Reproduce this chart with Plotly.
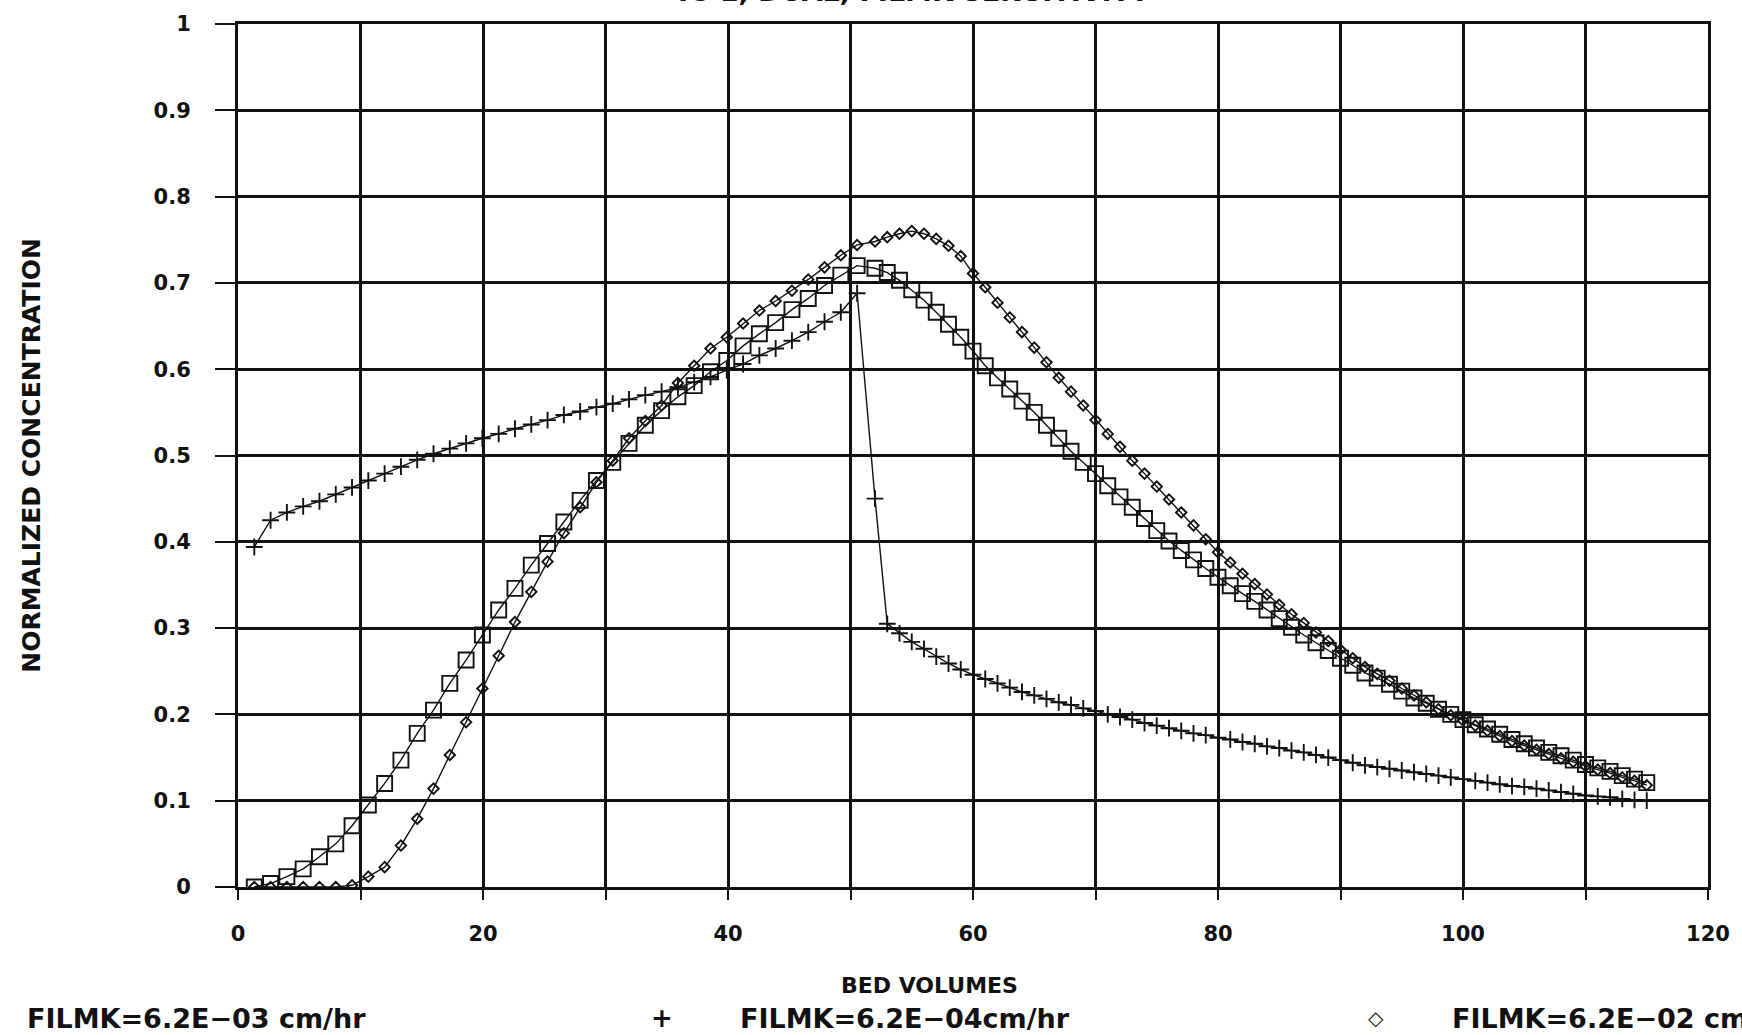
import plotly.graph_objects as go

# ---------------- data ----------------
# bed volumes: loading phase sampled coarser, elution phase every 1 BV
bv_load = [1.33, 2.66, 3.99, 5.32, 6.65, 7.98, 9.31, 10.64, 11.97, 13.30,
           14.63, 15.96, 17.29, 18.62, 19.95, 21.28, 22.61, 23.94, 25.27, 26.60,
           27.93, 29.26, 30.59, 31.92, 33.25, 34.58, 35.91, 37.24, 38.57, 39.90,
           41.23, 42.56, 43.89, 45.22, 46.55, 47.88, 49.21, 50.54]
bv_elute = [52, 53, 54, 55, 56, 57, 58, 59, 60, 61, 62, 63, 64, 65, 66, 67,
            68, 69, 70, 71, 72, 73, 74, 75, 76, 77, 78, 79, 80, 81, 82, 83,
            84, 85, 86, 87, 88, 89, 90, 91, 92, 93, 94, 95, 96, 97, 98, 99,
            100, 101, 102, 103, 104, 105, 106, 107, 108, 109, 110, 111, 112,
            113, 114, 115]

# FILMK = 6.2E-03 cm/hr (open squares)
sq_load = [0.000, 0.004, 0.012, 0.021, 0.035, 0.050, 0.071, 0.095, 0.120, 0.147,
           0.178, 0.205, 0.236, 0.263, 0.292, 0.321, 0.346, 0.373, 0.398, 0.423,
           0.448, 0.471, 0.492, 0.514, 0.535, 0.552, 0.568, 0.581, 0.597, 0.610,
           0.627, 0.641, 0.654, 0.669, 0.682, 0.697, 0.709, 0.720]
sq_elute = [0.717, 0.712, 0.703, 0.692, 0.680, 0.666, 0.652, 0.637, 0.621, 0.604,
            0.590, 0.577, 0.563, 0.550, 0.535, 0.520, 0.505, 0.492, 0.479, 0.465,
            0.452, 0.440, 0.427, 0.413, 0.401, 0.390, 0.379, 0.369, 0.359, 0.349,
            0.340, 0.331, 0.321, 0.311, 0.301, 0.292, 0.283, 0.274, 0.265, 0.257,
            0.248, 0.242, 0.235, 0.227, 0.219, 0.213, 0.206, 0.200, 0.194, 0.188,
            0.183, 0.177, 0.171, 0.166, 0.161, 0.156, 0.152, 0.147, 0.142, 0.138,
            0.134, 0.129, 0.125, 0.121]

# FILMK = 6.2E-04 cm/hr (plus)
pl_load = [0.394, 0.425, 0.434, 0.441, 0.447, 0.455, 0.463, 0.471, 0.479, 0.487,
           0.495, 0.502, 0.508, 0.514, 0.520, 0.525, 0.531, 0.536, 0.541, 0.547,
           0.551, 0.556, 0.560, 0.565, 0.570, 0.574, 0.579, 0.585, 0.591, 0.599,
           0.606, 0.616, 0.624, 0.633, 0.643, 0.655, 0.666, 0.688]
pl_elute = [0.450, 0.305, 0.294, 0.284, 0.276, 0.267, 0.259, 0.252, 0.246, 0.241,
            0.236, 0.231, 0.226, 0.222, 0.218, 0.214, 0.211, 0.207, 0.204, 0.200,
            0.197, 0.194, 0.190, 0.187, 0.184, 0.181, 0.178, 0.176, 0.173, 0.171,
            0.168, 0.166, 0.163, 0.161, 0.158, 0.156, 0.153, 0.150, 0.147, 0.144,
            0.141, 0.139, 0.137, 0.135, 0.133, 0.131, 0.129, 0.127, 0.125, 0.123,
            0.121, 0.119, 0.117, 0.116, 0.114, 0.112, 0.110, 0.108, 0.106, 0.105,
            0.104, 0.102, 0.101, 0.100]

# FILMK = 6.2E-02 cm/hr (open diamonds)
di_load = [0.000, 0.000, 0.000, 0.000, 0.000, 0.000, 0.002, 0.012, 0.023, 0.048,
           0.079, 0.114, 0.153, 0.191, 0.230, 0.268, 0.307, 0.342, 0.377, 0.410,
           0.440, 0.469, 0.494, 0.520, 0.540, 0.558, 0.584, 0.604, 0.624, 0.637,
           0.653, 0.668, 0.679, 0.691, 0.704, 0.718, 0.732, 0.744]
di_elute = [0.748, 0.753, 0.757, 0.760, 0.757, 0.751, 0.743, 0.731, 0.711, 0.695,
            0.677, 0.660, 0.643, 0.625, 0.608, 0.590, 0.574, 0.558, 0.541, 0.525,
            0.510, 0.494, 0.479, 0.464, 0.449, 0.434, 0.419, 0.403, 0.388, 0.376,
            0.363, 0.351, 0.339, 0.327, 0.316, 0.306, 0.295, 0.285, 0.275, 0.265,
            0.255, 0.247, 0.239, 0.230, 0.222, 0.214, 0.206, 0.199, 0.193, 0.187,
            0.181, 0.175, 0.169, 0.164, 0.159, 0.154, 0.149, 0.145, 0.140, 0.136,
            0.132, 0.127, 0.123, 0.118]

x_ticks = [0, 20, 40, 60, 80, 100, 120]
y_ticks = [0, 0.1, 0.2, 0.3, 0.4, 0.5, 0.6, 0.7, 0.8, 0.9, 1]

title_text = "IC-1, DUAL, FILMK SENSITIVITY"
x_title = "BED VOLUMES"
y_title = "NORMALIZED CONCENTRATION"
legend_sq = "FILMK=6.2E\u221203 cm/hr"
legend_pl = "FILMK=6.2E\u221204cm/hr"
legend_di = "FILMK=6.2E\u221202 cm/hr"

# ---------------- figure ----------------
INK = "#111111"
FONT = "DejaVu Sans"
bv = bv_load + bv_elute

fig = go.Figure()
fig.add_trace(go.Scatter(
    x=bv, y=sq_load + sq_elute, mode="lines+markers",
    line=dict(color=INK, width=1.4),
    marker=dict(symbol="square-open", size=15, color=INK, line=dict(width=1.9, color=INK)),
    showlegend=False))
fig.add_trace(go.Scatter(
    x=bv, y=pl_load + pl_elute, mode="lines+markers",
    line=dict(color=INK, width=1.4),
    marker=dict(symbol="cross-thin-open", size=12, color=INK, line=dict(width=1.9, color=INK)),
    showlegend=False))
fig.add_trace(go.Scatter(
    x=bv, y=di_load + di_elute, mode="lines+markers",
    line=dict(color=INK, width=1.4),
    marker=dict(symbol="diamond-open", size=8, color=INK, line=dict(width=1.9, color=INK)),
    showlegend=False))

L, R, T, B = 238, 32, 24, 148
W, H = 1742, 1035
PW, PH = W - L - R, H - T - B

def px(xp):
    return (xp - L) / PW

def py(yp):
    return (H - B - yp) / PH

tickfont = dict(family=FONT, size=21, color=INK, weight="bold")

fig.update_layout(
    width=W, height=H,
    margin=dict(l=L, r=R, t=T, b=B, pad=0),
    paper_bgcolor="white", plot_bgcolor="white",
    xaxis=dict(range=[0, 120], tickvals=x_ticks, ticktext=[str(v) for v in x_ticks],
               showgrid=True, gridcolor=INK, gridwidth=2.5,
               minor=dict(dtick=10, tick0=0, showgrid=True, gridcolor=INK, gridwidth=2.5,
                          ticks="outside", ticklen=10, tickwidth=2, tickcolor=INK),
               ticks="outside", ticklen=10, tickwidth=2, tickcolor=INK,
               ticklabelstandoff=16,
               showline=True, mirror=True, linecolor=INK, linewidth=3,
               zeroline=False, tickfont=tickfont),
    yaxis=dict(range=[0, 1], tickvals=y_ticks, ticktext=[("%g" % v) for v in y_ticks],
               showgrid=True, gridcolor=INK, gridwidth=2.5,
               ticks="outside", ticklen=20, tickwidth=2, tickcolor=INK,
               ticklabelstandoff=20,
               showline=True, mirror=True, linecolor=INK, linewidth=3,
               zeroline=False, tickfont=tickfont),
)

txt = dict(family=FONT, color=INK, weight="bold")
ann = [
    dict(text=title_text, x=px(915), y=py(9), xanchor="center", yanchor="bottom",
         font=dict(size=27, **txt)),
    dict(text=y_title, x=px(31), y=0.5, textangle=-90, xanchor="center", yanchor="middle",
         font=dict(size=25, **txt)),
    dict(text=x_title, x=px(930), y=py(985), xanchor="center", yanchor="middle",
         font=dict(size=22, **txt), borderpad=0),
    dict(text=legend_sq, x=px(26), y=py(1018), xanchor="left", yanchor="middle",
         font=dict(size=27, **txt), borderpad=0),
    dict(text="+", x=px(663), y=py(1018), xanchor="center", yanchor="middle",
         font=dict(size=26, **txt), borderpad=0),
    dict(text=legend_pl, x=px(740), y=py(1018), xanchor="left", yanchor="middle",
         font=dict(size=27, **txt), borderpad=0),
    dict(text="\u25c7", x=px(1378), y=py(1018), xanchor="center", yanchor="middle",
         font=dict(size=20, **txt), borderpad=0),
    dict(text=legend_di, x=px(1453), y=py(1018), xanchor="left", yanchor="middle",
         font=dict(size=27, **txt), borderpad=0),
]
for a in ann:
    a.update(xref="paper", yref="paper", showarrow=False)
fig.update_layout(annotations=ann)

fig.write_html("out.html")
